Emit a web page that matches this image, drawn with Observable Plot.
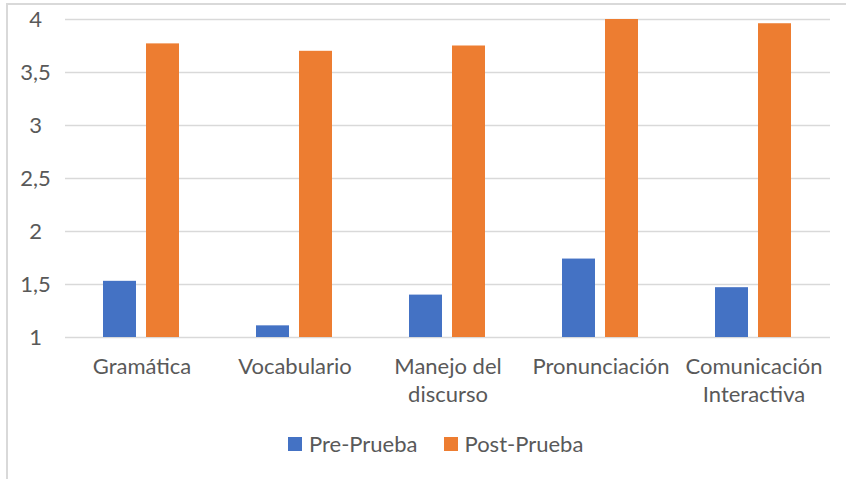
<!DOCTYPE html>
<html>
<head>
<meta charset="utf-8">
<script src="https://cdn.jsdelivr.net/npm/d3@7"></script>
<script src="https://cdn.jsdelivr.net/npm/@observablehq/plot@0.6"></script>
<style>
  html, body { margin: 0; padding: 0; background: #fff; }
  body { position: relative; width: 846px; height: 479px; overflow: hidden; font-family: Lato, sans-serif; }
  #frame { position: absolute; left: 6px; top: 3px; width: 900px; height: 600px; border-left: 2px solid #d9d9d9; border-top: 2px solid #d9d9d9; }
  #chart { position: absolute; left: 0; top: 0; }
  #legend { position: absolute; left: 288px; top: 430px; display: flex; align-items: center; font-family: Lato, sans-serif; font-size: 22px; color: #595959; }
  .item { display: flex; align-items: center; margin-right: 26px; }
  .sw { width: 14px; height: 14px; margin-right: 7px; }
</style>
</head>
<body>
<div id="frame"></div>
<div id="chart"></div>
<div id="legend"></div>
<script>
const categories = ["Gramática", "Vocabulario", "Manejo del discurso", "Pronunciación", "Comunicación Interactiva"];
const tickLabels = ["Gramática", "Vocabulario", "Manejo del\ndiscurso", "Pronunciación", "Comunicación\nInteractiva"];
const series = ["Pre-Prueba", "Post-Prueba"];
const prePrueba = [1.53, 1.11, 1.40, 1.74, 1.47];
const postPrueba = [3.77, 3.70, 3.75, 4.00, 3.96];
const yTicks = [1, 1.5, 2, 2.5, 3, 3.5, 4];
const colors = ["#4472C4", "#ED7D31"];

const data = [];
categories.forEach((c, i) => {
  data.push({category: c, series: series[0], value: prePrueba[i]});
  data.push({category: c, series: series[1], value: postPrueba[i]});
});

const chart = Plot.plot({
  width: 846,
  height: 415,
  marginLeft: 63,
  marginRight: 15,
  marginTop: 19,
  marginBottom: 78,
  style: {fontFamily: "Lato, sans-serif", fontSize: "22px", color: "#595959", background: "transparent"},
  fx: {domain: categories, padding: 0, axis: null, label: null},
  x: {domain: series, paddingInner: 0.227, paddingOuter: 0.859, axis: null, label: null},
  y: {domain: [1, 4], axis: null, label: null},
  color: {domain: series, range: colors},
  marks: [
    Plot.gridY(yTicks, {stroke: "#d9d9d9", strokeOpacity: 1, strokeWidth: 1.5}),
    Plot.axisY(yTicks, {
      tickSize: 0, tickPadding: 30, textAnchor: "middle", label: null,
      tickFormat: d => String(d).replace(".", ","), fill: "#595959"
    }),
    Plot.axisFx({
      anchor: "bottom", tickSize: 0, tickPadding: 17, lineHeight: 1.27, label: null,
      tickFormat: d => tickLabels[categories.indexOf(d)], fill: "#595959"
    }),
    Plot.barY(data, {fx: "category", x: "series", y1: 1, y2: "value", fill: "series"})
  ]
});
document.getElementById("chart").appendChild(chart);

const color = chart.scale("color");
const legend = document.getElementById("legend");
color.domain.forEach((s, i) => {
  const item = document.createElement("div");
  item.className = "item";
  const sw = document.createElement("div");
  sw.className = "sw";
  sw.style.background = color.range[i];
  const label = document.createElement("span");
  label.textContent = s;
  item.appendChild(sw);
  item.appendChild(label);
  legend.appendChild(item);
});
</script>
</body>
</html>
